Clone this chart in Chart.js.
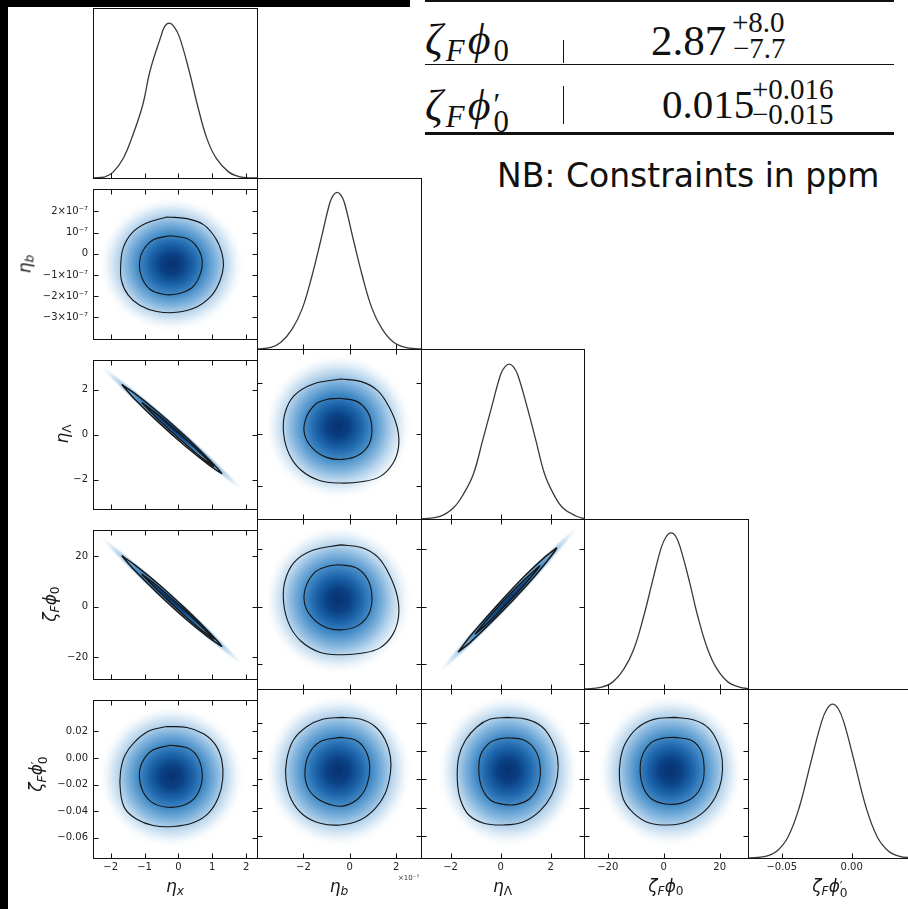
<!DOCTYPE html>
<html><head><meta charset="utf-8">
<script src="https://cdn.jsdelivr.net/npm/chart.js"></script>
<style>
html,body{margin:0;padding:0}
body{width:908px;height:909px;position:relative;overflow:hidden;background:#fff;font-family:'DejaVu Sans',sans-serif;color:#111}
canvas{position:absolute}
.blk{position:absolute;background:#000}
.rule{position:absolute;background:#111}
.ttl{position:absolute;font-size:17px;line-height:17px;font-style:italic;white-space:nowrap;color:#1a1a1a}
.ttl sub{font-size:0.72em;vertical-align:-0.28em;line-height:0}
.up{font-style:normal}
.ss{display:inline-block;vertical-align:-0.42em;font-size:0.72em;line-height:0.62em;text-align:left}
.ss span{display:block}
.tx{position:absolute;font-family:'Liberation Serif',serif;font-size:41px;line-height:1;white-space:nowrap;color:#111}
.lab{font-size:44px;letter-spacing:3px}
.tx sub{font-size:0.7em;vertical-align:-0.22em;line-height:0}
.tx .ss{vertical-align:-0.4em;font-size:0.7em;line-height:0.55em}
.sx{position:absolute;font-family:'Liberation Serif',serif;font-size:29px;line-height:1;white-space:nowrap;color:#111}
</style></head><body>
<div class="blk" style="left:0;top:0;width:410px;height:7px"></div>
<div class="blk" style="left:0;top:0;width:8px;height:909px"></div>

<div class="rule" style="left:425px;top:0;width:469px;height:2px"></div>
<div class="rule" style="left:425px;top:64px;width:469px;height:1px"></div>
<div class="rule" style="left:425px;top:132px;width:469px;height:3px"></div>
<div class="rule" style="left:563px;top:40px;width:1px;height:23px"></div>
<div class="rule" style="left:563px;top:86px;width:1px;height:38px"></div>
<div class="tx lab" style="left:425px;top:18px"><i>ζ</i><sub><i>F</i></sub><i>ϕ</i><sub>0</sub></div>
<div class="tx" style="left:651px;top:19px;font-size:43px">2.87</div>
<div class="sx" style="left:732px;top:8px">+8.0</div>
<div class="sx" style="left:733px;top:34px">−7.7</div>
<div class="tx lab" style="left:425px;top:84px"><i>ζ</i><sub><i>F</i></sub><i>ϕ</i><span class="ss"><span>′</span><span>0</span></span></div>
<div class="tx" style="left:662px;top:84px">0.015</div>
<div class="sx" style="left:752px;top:75px">+0.016</div>
<div class="sx" style="left:752px;top:100px">−0.015</div>
<div style="position:absolute;left:497px;top:159px;font:33px/1 'DejaVu Sans';color:#111;white-space:nowrap">NB: Constraints in ppm</div>
<div id="offs" style="position:absolute;left:398px;top:875px;font:7px/1 'DejaVu Sans';color:#333;z-index:5">×10⁻⁷</div>

<script>
// ---------------- data ----------------
// parameter order: eta_x, eta_b (in units of 1e-7), eta_Lambda, zeta_F*phi_0, zeta_F*phi_0'
const PARAM_TITLES = ['η<sub>x</sub>', 'η<sub>b</sub>', 'η<sub class="up">Λ</sub>',
  'ζ<sub>F</sub>ϕ<sub class="up">0</sub>', 'ζ<sub>F</sub>ϕ<span class="ss up"><span>′</span><span>0</span></span>'];

const X_RANGE = [[-2.52, 2.32], [-4.0, 3.07], [-3.18, 3.33], [-28.5, 30.1], [-0.0741, 0.0431]];
const Y_RANGE = [[-2.52, 2.32], [-4.02, 3.06], [-3.30, 3.32], [-28.6, 30.5], [-0.0754, 0.0437]];
const DIAG_Y_RANGE = [0, 1];

const X_TICKS = [[-2, -1, 0, 1, 2], [-2, 0, 2], [-2, 0, 2], [-20, 0, 20], [-0.05, 0.0]];
const X_TICK_LABELS = [['−2', '−1', '0', '1', '2'], ['−2', '0', '2'], ['−2', '0', '2'], ['−20', '0', '20'], ['−0.05', '0.00']];
const Y_TICKS = [[], [2, 1, 0, -1, -2, -3], [2, 0, -2], [20, 0, -20], [0.02, 0.0, -0.02, -0.04, -0.06]];
const Y_TICK_LABELS = [[], ['2×10⁻⁷', '10⁻⁷', '0', '−1×10⁻⁷', '−2×10⁻⁷', '−3×10⁻⁷'], ['2', '0', '−2'], ['20', '0', '−20'],
  ['0.02', '0.00', '−0.02', '−0.04', '−0.06']];

// 1D marginal curves (x, height as fraction of panel)
const ETA_X_1D_X = [-2.52, -2.17, -1.92, -1.63, -1.38, -1.05, -0.84, -0.52, -0.40, -0.27, -0.14, 0.03, 0.32, 0.56, 0.84, 1.12, 1.48, 1.83, 2.1, 2.32];
const ETA_X_1D_Y = [0.0, 0.006, 0.036, 0.115, 0.233, 0.431, 0.628, 0.83, 0.893, 0.911, 0.893, 0.83, 0.628, 0.431, 0.233, 0.115, 0.036, 0.006, 0.001, 0.0];
const ETA_B_1D_X = [-4.0, -3.40, -2.97, -2.48, -2.05, -1.62, -1.26, -0.86, -0.70, -0.545, -0.39, -0.23, 0.17, 0.53, 0.96, 1.39, 1.89, 2.39, 3.07];
const ETA_B_1D_Y = [0.0, 0.009, 0.039, 0.118, 0.236, 0.433, 0.630, 0.855, 0.901, 0.916, 0.901, 0.855, 0.630, 0.433, 0.236, 0.118, 0.039, 0.009, 0.0];
const ETA_L_1D_X = [-3.18, -2.42, -1.89, -1.49, -1.09, -0.72, -0.36, 0.0, 0.17, 0.34, 0.51, 0.68, 1.06, 1.41, 1.76, 2.12, 2.49, 3.03, 3.33];
const ETA_L_1D_Y = [0.0, 0.016, 0.065, 0.145, 0.263, 0.461, 0.658, 0.85, 0.895, 0.911, 0.895, 0.85, 0.658, 0.461, 0.263, 0.145, 0.065, 0.016, 0.003];
const ZETA_1D_X = [-28.5, -22.5, -18.4, -14.23, -10.68, -7.12, -4.13, -0.93, 0.9, 2.6, 4.3, 5.94, 9.25, 12.1, 15.66, 19.0, 23.1, 27.3, 30.1];
const ZETA_1D_Y = [0.0, 0.01, 0.039, 0.118, 0.235, 0.431, 0.627, 0.83, 0.897, 0.918, 0.897, 0.83, 0.627, 0.431, 0.235, 0.118, 0.039, 0.01, 0.002];
const ZETAP_1D_X = [-0.0741, -0.0616, -0.0536, -0.0456, -0.0376, -0.0296, -0.0216, -0.0176, -0.0136, -0.0096, -0.0056, 0.0024, 0.0104, 0.0184, 0.0264, 0.0344, 0.0431];
const ZETAP_1D_Y = [0.0, 0.010, 0.040, 0.123, 0.296, 0.553, 0.804, 0.883, 0.911, 0.883, 0.804, 0.553, 0.296, 0.123, 0.040, 0.010, 0.001];

// 2D contours [x, y] (outer and inner)
const C_XB_OUT = [[-0.34,1.74],[0.25,1.66],[0.74,1.38],[1.09,0.76],[1.28,0.06],[1.33,-0.56],[1.23,-1.26],[0.99,-1.95],[0.54,-2.51],[-0.05,-2.76],[-0.64,-2.72],[-1.13,-2.44],[-1.48,-1.95],[-1.68,-1.26],[-1.70,-0.49],[-1.63,0.27],[-1.38,0.97],[-0.94,1.45]];
const C_XB_IN = [[-0.25,0.85],[0.25,0.72],[0.54,0.34],[0.70,-0.28],[0.64,-0.98],[0.40,-1.60],[-0.05,-1.90],[-0.44,-1.91],[-0.84,-1.67],[-1.08,-1.12],[-1.15,-0.49],[-1.05,0.13],[-0.74,0.66]];
const C_XL_OUT = [[-1.67,2.23],[-1.3,1.85],[-0.6,1.01],[0.2,-0.06],[0.9,-1.10],[1.28,-1.72],[0.9,-1.34],[0.2,-0.50],[-0.6,0.57],[-1.3,1.60]];
const C_XL_IN = [[-1.08,1.43],[-0.6,0.88],[0.2,-0.17],[0.7,-0.88],[1.04,-1.41],[0.7,-1.04],[0.2,-0.40],[-0.6,0.69]];
const C_BL_OUT = [[-0.4,2.15],[0.5,2.05],[1.2,1.7],[1.7,1.05],[2.05,0.25],[2.1,-0.5],[1.85,-1.15],[1.3,-1.65],[0.5,-1.85],[-0.4,-1.9],[-1.3,-1.8],[-2.1,-1.4],[-2.6,-0.8],[-2.85,0.0],[-2.8,0.8],[-2.4,1.5],[-1.6,1.95]];
const C_BL_IN = [[-0.5,1.4],[0.25,1.3],[0.75,0.9],[0.95,0.3],[0.85,-0.35],[0.4,-0.8],[-0.3,-0.98],[-1.0,-0.9],[-1.6,-0.55],[-1.95,0.0],[-1.9,0.6],[-1.5,1.15],[-1.0,1.35]];
const C_XZ_OUT = [[-1.67,20.3],[-1.3,16.8],[-0.6,9.2],[0.2,-0.6],[0.9,-10.0],[1.28,-15.65],[0.9,-12.2],[0.2,-4.6],[-0.6,5.2],[-1.3,14.6]];
const C_XZ_IN = [[-1.08,13.0],[-0.6,8.0],[0.2,-1.5],[0.7,-8.0],[1.04,-12.8],[0.7,-9.4],[0.2,-3.7],[-0.6,6.4]];
const C_BZ_OUT = [[-0.4,21.5],[0.5,20.6],[1.2,17.3],[1.7,11.2],[2.05,3.6],[2.1,-3.5],[1.85,-9.7],[1.3,-14.3],[0.5,-16.2],[-0.4,-16.7],[-1.3,-15.8],[-2.1,-12.0],[-2.6,-6.4],[-2.85,1.2],[-2.8,8.7],[-2.4,15.4],[-1.6,19.6]];
const C_BZ_IN = [[-0.5,14.6],[0.25,13.6],[0.75,9.8],[0.95,4.2],[0.85,-2.0],[0.4,-6.3],[-0.3,-8.0],[-1.0,-7.3],[-1.6,-4.0],[-1.95,1.2],[-1.9,6.8],[-1.5,12.0],[-1.0,13.9]];
const C_LZ_OUT = [[-1.70,-15.8],[-1.2,-10.1],[0.0,1.8],[1.0,11.0],[1.8,17.5],[2.24,20.4],[1.8,15.2],[1.0,7.0],[0.0,-2.2],[-1.2,-12.3]];
const C_LZ_IN = [[-1.02,-9.55],[-0.5,-4.0],[0.3,3.7],[1.0,9.8],[1.56,14.15],[1.0,8.2],[0.3,1.5],[-0.5,-5.6]];
const C_XP_OUT = [[-0.34,0.0237],[0.25,0.0230],[0.74,0.0183],[1.09,0.0101],[1.28,-0.0016],[1.31,-0.0157],[1.18,-0.0298],[0.89,-0.0415],[0.45,-0.0486],[-0.15,-0.0516],[-0.74,-0.0509],[-1.23,-0.0462],[-1.58,-0.0380],[-1.71,-0.0251],[-1.71,-0.0110],[-1.58,0.0019],[-1.28,0.0124],[-0.84,0.0207]];
const C_XP_IN = [[-0.245,0.0096],[0.25,0.0077],[0.54,0.0019],[0.69,-0.0087],[0.67,-0.0204],[0.45,-0.0310],[0.05,-0.0364],[-0.39,-0.0369],[-0.79,-0.0333],[-1.05,-0.0251],[-1.15,-0.0146],[-1.08,-0.0040],[-0.79,0.0054]];
const C_BP_OUT = [[-0.34,0.0237],[0.45,0.0225],[1.10,0.0171],[1.53,0.0077],[1.75,-0.0040],[1.75,-0.0157],[1.53,-0.0298],[1.10,-0.0404],[0.45,-0.0486],[-0.41,-0.0521],[-1.28,-0.0509],[-2.0,-0.0451],[-2.51,-0.0345],[-2.75,-0.0204],[-2.72,-0.0063],[-2.43,0.0077],[-1.86,0.0171],[-1.14,0.0225]];
const C_BP_IN = [[-0.41,0.0096],[0.24,0.0077],[0.67,0.0007],[0.86,-0.0110],[0.74,-0.0239],[0.38,-0.0333],[-0.20,-0.0385],[-0.78,-0.0380],[-1.42,-0.0333],[-1.83,-0.0251],[-1.93,-0.0134],[-1.74,-0.0016],[-1.28,0.0066]];
const C_LP_OUT = [[0.26,0.0237],[1.05,0.0223],[1.65,0.0171],[2.04,0.0077],[2.27,-0.0040],[2.27,-0.0181],[2.04,-0.0310],[1.58,-0.0420],[0.92,-0.0498],[0.12,-0.0521],[-0.67,-0.0509],[-1.27,-0.0451],[-1.60,-0.0345],[-1.73,-0.0204],[-1.67,-0.0040],[-1.40,0.0077],[-0.94,0.0171],[-0.41,0.0225]];
const C_LP_IN = [[0.26,0.0094],[0.92,0.0077],[1.38,0.0007],[1.58,-0.0110],[1.51,-0.0239],[1.18,-0.0333],[0.65,-0.0376],[0.12,-0.0376],[-0.41,-0.0345],[-0.74,-0.0263],[-0.87,-0.0146],[-0.80,-0.0028],[-0.47,0.0054],[-0.14,0.0082]];
const C_ZP_OUT = [[3.6,0.0237],[10.8,0.0218],[16.1,0.0160],[19.4,0.0054],[20.9,-0.0063],[20.6,-0.0204],[18.5,-0.0322],[14.4,-0.0427],[8.4,-0.0498],[1.8,-0.0521],[-5.4,-0.0505],[-10.7,-0.0439],[-14.3,-0.0345],[-15.8,-0.0204],[-15.5,-0.0063],[-13.7,0.0054],[-9.6,0.0160],[-3.6,0.0223]];
const C_ZP_IN = [[3.6,0.0096],[9.6,0.0077],[13.2,0.0007],[14.4,-0.0110],[13.8,-0.0228],[10.8,-0.0322],[6.0,-0.0369],[0.6,-0.0373],[-4.2,-0.0340],[-7.2,-0.0263],[-8.4,-0.0157],[-7.8,-0.0040],[-4.8,0.0054],[-0.6,0.0089]];

// 2D density shading: mean, sigma per parameter, correlations
const DENS_MEAN = [-0.2, -0.5, 0.3, 2.4, -0.014];
const DENS_SIGMA = [0.66, 0.98, 0.87, 7.98, 0.0165];
const CORR = {'0-2': -0.993, '0-3': -0.993, '2-3': 0.993};

// ---------------- layout / style ----------------
const COL_LEFT = [93, 257, 421, 584, 748, 912];
const ROW_TOP = [8, 178, 349, 519, 689, 858];
const XAXIS_H = 22;
const Y_TITLE_X = [0, 25, 62, 50, 38];
const X_TITLE_Y = 878;
const GRAD_STOPS = [[0,'rgb(8,50,110)'],[0.5,'rgb(10,64,132)'],[1.0,'rgb(28,100,170)'],[1.5,'rgb(68,140,199)'],
  [2.0,'rgb(130,180,221)'],[2.4,'rgb(186,214,237)'],[2.8,'rgb(229,240,248)'],[3.3,'rgba(255,255,255,0)']];

const MARGINALS = [[ETA_X_1D_X, ETA_X_1D_Y], [ETA_B_1D_X, ETA_B_1D_Y], [ETA_L_1D_X, ETA_L_1D_Y], [ZETA_1D_X, ZETA_1D_Y], [ZETAP_1D_X, ZETAP_1D_Y]];
const CONTOURS = {
  '1-0': [C_XB_OUT, C_XB_IN, 0.4, 1.1], '2-0': [C_XL_OUT, C_XL_IN, 0.15, 1.5], '2-1': [C_BL_OUT, C_BL_IN, 0.4, 1.1],
  '3-0': [C_XZ_OUT, C_XZ_IN, 0.15, 1.5], '3-1': [C_BZ_OUT, C_BZ_IN, 0.4, 1.1], '3-2': [C_LZ_OUT, C_LZ_IN, 0.15, 1.5],
  '4-0': [C_XP_OUT, C_XP_IN, 0.4, 1.1], '4-1': [C_BP_OUT, C_BP_IN, 0.4, 1.1], '4-2': [C_LP_OUT, C_LP_IN, 0.4, 1.1], '4-3': [C_ZP_OUT, C_ZP_IN, 0.4, 1.1]
};

function drawDensity(chart, d) {
  const {ctx, chartArea: a} = chart;
  const xs = chart.scales.x, ys = chart.scales.y;
  const cx = xs.getPixelForValue(d.mx), cy = ys.getPixelForValue(d.my);
  const kx = Math.abs(xs.getPixelForValue(d.mx + d.sx) - cx);
  const ky = Math.abs(ys.getPixelForValue(d.my + d.sy) - cy);
  const a11 = kx * kx, a22 = ky * ky, a12 = -d.rho * kx * ky;
  const tr = (a11 + a22) / 2, df = Math.sqrt(((a11 - a22) / 2) ** 2 + a12 * a12);
  const l1 = tr + df, l2 = Math.max(tr - df, 0.01);
  const th = 0.5 * Math.atan2(2 * a12, a11 - a22);
  ctx.save();
  ctx.beginPath(); ctx.rect(a.left, a.top, a.right - a.left, a.bottom - a.top); ctx.clip();
  ctx.translate(cx, cy); ctx.rotate(th); ctx.scale(Math.sqrt(l1), Math.sqrt(l2));
  const R = GRAD_STOPS[GRAD_STOPS.length - 1][0];
  const g = ctx.createRadialGradient(0, 0, 0, 0, 0, R);
  GRAD_STOPS.forEach(([r, col]) => g.addColorStop(r / R, col));
  ctx.fillStyle = g; ctx.beginPath(); ctx.arc(0, 0, R, 0, Math.PI * 2); ctx.fill();
  ctx.restore();
}

function panelPlugin(meta) {
  return {
    id: 'panel' + meta.r + meta.c,
    beforeDatasetsDraw(chart) { if (meta.dens) drawDensity(chart, meta.dens); },
    afterDraw(chart) {
      const {ctx, chartArea: a} = chart;
      const xs = chart.scales.x, ys = chart.scales.y;
      const L = Math.round(a.left) + 0.5, T = Math.round(a.top) + 0.5, R = Math.round(a.right) + 0.5, B = Math.round(a.bottom) + 0.5;
      ctx.save();
      ctx.strokeStyle = '#111'; ctx.lineWidth = 1;
      ctx.strokeRect(L, T, R - L, B - T);
      const TL = 5;
      ctx.beginPath();
      X_TICKS[meta.c].forEach(v => {
        const p = Math.round(xs.getPixelForValue(v)) + 0.5;
        ctx.moveTo(p, B); ctx.lineTo(p, B - TL);
        if (!meta.diag) { ctx.moveTo(p, T); ctx.lineTo(p, T + TL); }
      });
      if (!meta.diag) Y_TICKS[meta.r].forEach(v => {
        const p = Math.round(ys.getPixelForValue(v)) + 0.5;
        ctx.moveTo(L, p); ctx.lineTo(L + TL, p); ctx.moveTo(R, p); ctx.lineTo(R - TL, p);
      });
      ctx.stroke(); ctx.restore();
    }
  };
}

const TICK_FONT = {family: 'DejaVu Sans', size: 10};

function makePanel(r, c) {
  const diag = r === c;
  const showY = c === 0 && r > 0, showX = r === 4;
  const left = showY ? 0 : COL_LEFT[c];
  const top = ROW_TOP[r];
  const w = COL_LEFT[c + 1] - left + 1;
  const h = ROW_TOP[r + 1] - top + (showX ? XAXIS_H : 1);
  const cv = document.createElement('canvas');
  cv.width = w; cv.height = h;
  cv.style.left = left + 'px'; cv.style.top = top + 'px';
  cv.style.width = w + 'px'; cv.style.height = h + 'px';
  document.body.appendChild(cv);

  const datasets = [];
  let dens = null;
  if (diag) {
    const [mx, my] = MARGINALS[c];
    datasets.push({data: mx.map((x, i) => ({x, y: my[i]})), showLine: true, borderColor: '#3a3a3a', borderWidth: 1.3,
      pointRadius: 0, tension: 0.4, fill: false});
  } else {
    const [outer, inner, tens, bw] = CONTOURS[r + '-' + c];
    [outer, inner].forEach(pts => datasets.push({data: pts.concat([pts[0]]).map(([x, y]) => ({x, y})), showLine: true,
      borderColor: '#161616', borderWidth: bw, pointRadius: 0, tension: tens, fill: false}));
    dens = {mx: DENS_MEAN[c], my: DENS_MEAN[r], sx: DENS_SIGMA[c], sy: DENS_SIGMA[r], rho: CORR[c + '-' + r] || 0};
  }
  const yRange = diag ? DIAG_Y_RANGE : Y_RANGE[r];
  const yTicks = diag ? [] : Y_TICKS[r];
  new Chart(cv, {
    type: 'scatter',
    data: {datasets},
    options: {
      responsive: false, animation: false, devicePixelRatio: 1, events: [],
      layout: {padding: {left: 0, top: 0, right: 1, bottom: showX ? 0 : 1}},
      plugins: {legend: {display: false}, tooltip: {enabled: false}},
      scales: {
        x: {type: 'linear', position: 'bottom', min: X_RANGE[c][0], max: X_RANGE[c][1], display: showX,
          grid: {display: false, drawTicks: false}, border: {display: false},
          afterBuildTicks: s => { s.ticks = X_TICKS[c].map(v => ({value: v})); },
          afterFit: s => { s.height = showX ? XAXIS_H : 0; },
          ticks: {autoSkip: false, maxRotation: 0, minRotation: 0, padding: 3, color: '#222', font: TICK_FONT,
            callback: (v, i) => X_TICK_LABELS[c][i]}},
        y: {type: 'linear', position: 'left', min: yRange[0], max: yRange[1], display: showY,
          grid: {display: false, drawTicks: false}, border: {display: false},
          afterBuildTicks: s => { s.ticks = yTicks.map(v => ({value: v})); },
          afterFit: s => { s.width = showY ? COL_LEFT[0] : 0; },
          ticks: {autoSkip: false, padding: 5, color: '#222', font: TICK_FONT,
            callback: (v, i) => Y_TICK_LABELS[r][i]}}
      }
    },
    plugins: [panelPlugin({r, c, diag, dens})]
  });
}

for (let r = 0; r < 5; r++) for (let c = 0; c <= r; c++) makePanel(r, c);

// axis titles
for (let c = 0; c < 5; c++) {
  const d = document.createElement('div');
  d.className = 'ttl';
  d.innerHTML = PARAM_TITLES[c];
  d.style.left = ((COL_LEFT[c] + COL_LEFT[c + 1]) / 2) + 'px';
  d.style.top = X_TITLE_Y + 'px';
  d.style.transform = 'translateX(-50%)';
  document.body.appendChild(d);
}
for (let r = 1; r < 5; r++) {
  const d = document.createElement('div');
  d.className = 'ttl';
  d.innerHTML = PARAM_TITLES[r];
  d.style.left = Y_TITLE_X[r] + 'px';
  d.style.top = ((ROW_TOP[r] + ROW_TOP[r + 1]) / 2) + 'px';
  d.style.transform = 'translate(-50%,-50%) rotate(-90deg)';
  document.body.appendChild(d);
}
</script>
</body></html>
